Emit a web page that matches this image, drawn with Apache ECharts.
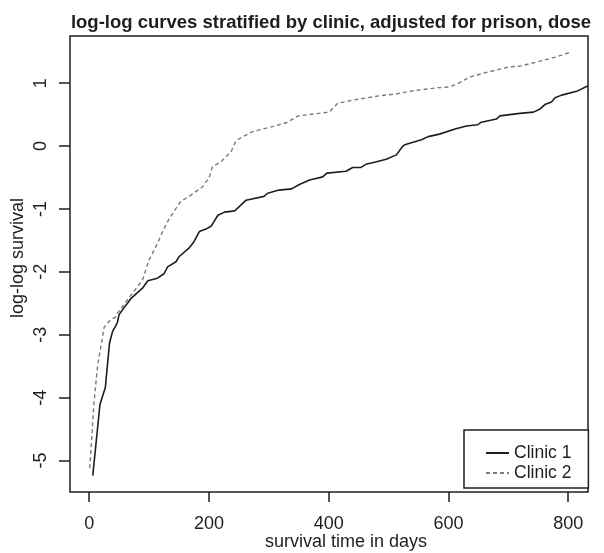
<!DOCTYPE html>
<html>
<head>
<meta charset="utf-8">
<title>log-log curves stratified by clinic</title>
<script src="https://cdn.jsdelivr.net/npm/echarts@6/dist/echarts.min.js"></script>
<style>
  html, body { margin: 0; padding: 0; background: #fff; }
  #chart { width: 604px; height: 553px; }
</style>
</head>
<body>
<div id="chart"></div>
<script>
// ── data ──
const clinic1Days = [6, 18, 27, 34, 39, 47, 50, 58, 64, 70, 89, 98, 114, 125, 131, 145, 150, 167, 175, 184,
  195, 204, 215, 226, 243, 251, 262, 292, 298, 317, 338, 351, 368, 371, 390, 397, 429, 440, 454, 462,
  480, 496, 513, 523, 527, 541, 555, 566, 585, 611, 630, 649, 655, 680, 686, 719, 742, 753, 761, 772,
  778, 789, 814, 833];
const clinic1LogLog = [-5.24, -4.11, -3.84, -3.13, -2.95, -2.81, -2.68, -2.57, -2.50, -2.42, -2.26, -2.14,
  -2.10, -2.03, -1.92, -1.84, -1.76, -1.62, -1.52, -1.36, -1.32, -1.27, -1.10, -1.05, -1.03, -0.96, -0.86,
  -0.80, -0.75, -0.70, -0.68, -0.61, -0.54, -0.52, -0.49, -0.43, -0.40, -0.34, -0.34, -0.29, -0.25, -0.21,
  -0.14, -0.01, 0.02, 0.06, 0.10, 0.15, 0.19, 0.27, 0.32, 0.34, 0.38, 0.43, 0.48, 0.52, 0.54, 0.59, 0.66,
  0.70, 0.77, 0.81, 0.87, 0.96];

const clinic2Days = [1, 8, 14, 25, 36, 44, 47, 61, 89, 100, 114, 125, 134, 145, 153, 170, 189, 200, 206,
  220, 237, 245, 251, 273, 306, 329, 349, 401, 407, 415, 440, 485, 513, 541, 585, 600, 613, 636, 663,
  702, 719, 753, 781, 803];
const clinic2LogLog = [-5.12, -4.09, -3.50, -2.88, -2.76, -2.72, -2.66, -2.48, -2.13, -1.81, -1.55, -1.31,
  -1.15, -0.99, -0.88, -0.78, -0.65, -0.51, -0.33, -0.25, -0.09, 0.08, 0.12, 0.23, 0.31, 0.37, 0.48, 0.54,
  0.60, 0.68, 0.73, 0.80, 0.83, 0.88, 0.93, 0.94, 0.98, 1.10, 1.17, 1.26, 1.27, 1.35, 1.42, 1.49];

const xTicks = [0, 200, 400, 600, 800];
const yTicks = [-5, -4, -3, -2, -1, 0, 1];

const FONT = '"Liberation Sans", Arial, Helvetica, sans-serif';
const INK = '#1e1e1e';

function pairs(xs, ys) {
  return xs.map((x, i) => [x, ys[i]]);
}

const chart = echarts.init(document.getElementById('chart'), null, { renderer: 'canvas' });

chart.setOption({
  animation: false,
  backgroundColor: '#fff',
  title: {
    text: 'log-log curves stratified by clinic, adjusted for prison, dose',
    left: 326,
    top: 8,
    textAlign: 'center',
    textStyle: { fontFamily: FONT, fontSize: 18.5, fontWeight: 'bold', color: INK },
  },
  grid: {
    left: 70, right: 16, top: 36, bottom: 61,
    outerBoundsMode: 'none',
    containLabel: false,
    show: true,
    borderColor: INK,
    borderWidth: 1.5,
    backgroundColor: 'transparent',
  },
  legend: {
    orient: 'vertical',
    left: 464,
    top: 430,
    padding: [14, 17, 6, 21],
    itemGap: 2,
    itemWidth: 23,
    itemHeight: 20,
    borderColor: INK,
    borderWidth: 1.5,
    backgroundColor: '#fff',
    itemStyle: { color: 'transparent', borderWidth: 0, opacity: 0 },
    textStyle: { fontFamily: FONT, fontSize: 17.5, color: INK },
    data: ['Clinic 1', 'Clinic 2'],
  },
  xAxis: {
    type: 'value',
    min: -32,
    max: 833,
    name: 'survival time in days',
    nameLocation: 'middle',
    nameGap: 41,
    nameMoveOverlap: false,
    nameTextStyle: { fontFamily: FONT, fontSize: 18, color: INK, padding: [0, 0, 0, 34] },
    axisLine: { show: false, onZero: false },
    axisTick: {
      show: true, length: 10, customValues: xTicks,
      lineStyle: { color: INK, width: 1.5 },
    },
    axisLabel: {
      customValues: xTicks, margin: 23,
      fontFamily: FONT, fontSize: 18, color: INK,
    },
    splitLine: { show: false },
  },
  yAxis: {
    type: 'value',
    min: -5.5,
    max: 1.75,
    name: 'log-log survival',
    nameLocation: 'middle',
    nameGap: 43,
    nameMoveOverlap: false,
    nameTextStyle: { fontFamily: FONT, fontSize: 18, color: INK, padding: [0, 0, 0, 12] },
    axisLine: { show: false, onZero: false },
    axisTick: {
      show: true, length: 11, customValues: yTicks,
      lineStyle: { color: INK, width: 1.5 },
    },
    axisLabel: {
      customValues: yTicks, rotate: 90, margin: 20,
      fontFamily: FONT, fontSize: 18, color: INK,
    },
    splitLine: { show: false },
  },
  series: [
    {
      name: 'Clinic 1',
      type: 'line',
      symbol: 'none',
      showSymbol: false,
      lineStyle: { color: INK, width: 1.6 },
      itemStyle: { color: INK },
      data: pairs(clinic1Days, clinic1LogLog),
    },
    {
      name: 'Clinic 2',
      type: 'line',
      symbol: 'none',
      showSymbol: false,
      lineStyle: { color: '#7a7a7a', width: 1.4, type: [4, 3] },
      itemStyle: { color: '#7a7a7a' },
      data: pairs(clinic2Days, clinic2LogLog),
    },
  ],
});
</script>
</body>
</html>
